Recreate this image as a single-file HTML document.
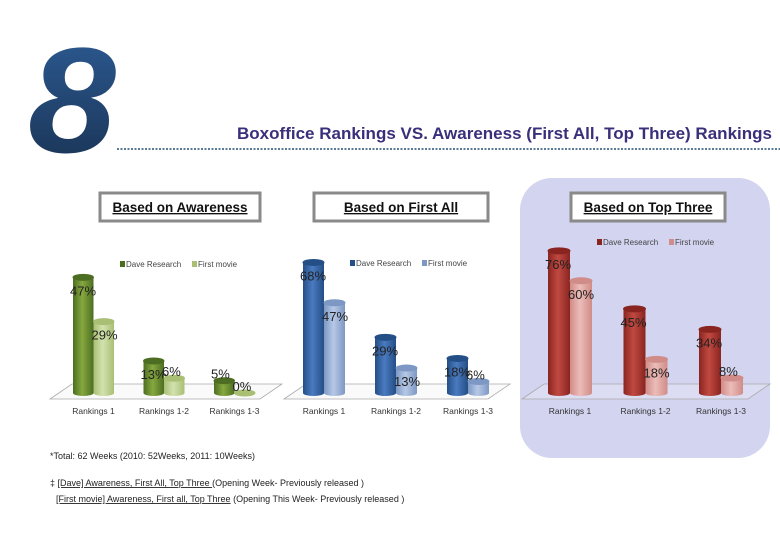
<!DOCTYPE html>
<html><head><meta charset="utf-8"><style>
body{margin:0;background:#fff;}
svg{display:block;font-family:"Liberation Sans",sans-serif;}
</style></head><body>
<svg width="780" height="540" viewBox="0 0 780 540" id="s">
<defs>
<linearGradient id="g8" x1="0" y1="0" x2="0" y2="1"><stop offset="0" stop-color="#2e5e98"/><stop offset="1" stop-color="#18304f"/></linearGradient>
</defs>
<text x="28" y="152" font-size="150" font-weight="bold" font-style="italic" fill="url(#g8)" font-family="Liberation Sans,sans-serif" textLength="88" lengthAdjust="spacingAndGlyphs">8</text>
<text x="237" y="139" font-size="16.5" font-weight="bold" fill="#3a2f7a" textLength="535" lengthAdjust="spacingAndGlyphs">Boxoffice Rankings VS. Awareness (First All, Top Three) Rankings</text>
<line x1="117" y1="149" x2="780" y2="149" stroke="#5a7a96" stroke-width="2" stroke-dasharray="2,1.5"/>
<rect x="520" y="178" width="250" height="280" rx="32" fill="#d3d4f0"/>
<g id="charts"></g>
<text x="50" y="459" font-size="9" fill="#222">*Total: 62 Weeks (2010: 52Weeks, 2011: 10Weeks)</text>
<text x="50" y="486" font-size="9" fill="#222">‡ <tspan text-decoration="underline">[Dave] Awareness, First  All, Top Three </tspan> (Opening Week- Previously released )</text>
<text x="56" y="502" font-size="9" fill="#222"><tspan text-decoration="underline">[First movie] Awareness, First all, Top Three</tspan> (Opening This Week- Previously released )</text>
</svg>
<script>
const categories = ["Rankings 1","Rankings 1-2","Rankings 1-3"];
const series = ["Dave Research","First movie"];
const awarenessDave = [47,13,5];
const awarenessFirst = [29,6,0];
const firstAllDave = [68,29,18];
const firstAllFirst = [47,13,6];
const topThreeDave = [76,45,34];
const topThreeFirst = [60,18,8];

const NS="http://www.w3.org/2000/svg";
const root=document.getElementById('charts');
function mk(tag,attrs,parent){const e=document.createElementNS(NS,tag);for(const k in attrs)e.setAttribute(k,attrs[k]);(parent||root).appendChild(e);return e;}

const charts=[
 {title:"Based on Awareness",name:"awareness",box:[100,193,160],x0:73,step:70.5,bw:20.5,ppu:2.46,dave:awarenessDave,first:awarenessFirst,c1:["#4d6e22","#86a83e"],c2:["#a9bf74","#d3e2ae"],leg:[120,267],floor:[50,282]},
 {title:"Based on First  All",name:"first-all",box:[314,193,174],x0:303,step:72,bw:21,ppu:1.92,dave:firstAllDave,first:firstAllFirst,c1:["#244f86","#4a7ac0"],c2:["#7d98c4","#b6c8e6"],leg:[350,266],floor:[284,510]},
 {title:"Based on Top Three",name:"top-three",box:[571,193,154],x0:548,step:75.5,bw:22,ppu:1.87,dave:topThreeDave,first:topThreeFirst,c1:["#8a2420","#c04a42"],c2:["#d08c88","#ecbcb8"],leg:[597,245],floor:[522,770]}
];
const base=393;
charts.forEach((c,ci)=>{
  const g=mk('g',{});
  
  
  const b=mk('rect',{x:c.box[0],y:c.box[1],width:c.box[2],height:28,fill:"#fff",stroke:"#8a8a8a","stroke-width":3},g);
  
  
  const t=mk('text',{x:c.box[0]+c.box[2]/2,y:c.box[1]+19,"text-anchor":"middle","font-size":13.5,"font-weight":"bold","text-decoration":"underline",fill:"#111"},g);
  t.textContent=c.title;
  
  
  // floor
  const f=mk('polygon',{points:`${c.floor[0]},399 ${c.floor[0]+22},384 ${c.floor[1]},384 ${c.floor[1]-22},399`,fill:ci==2?"#dcdcf2":"#fafafa",stroke:"#aaa","stroke-width":0.8},g);
  
  
  // legend
  [0,1].forEach(si=>{
    const lx=c.leg[0]+si*72;
    const r=mk('rect',{x:lx,y:c.leg[1]-6,width:5,height:6,fill:si?c.c2[0]:c.c1[0]},g);
    
    
    const lt=mk('text',{x:lx+6,y:c.leg[1],"font-size":8,fill:"#444"},g);
    lt.textContent=series[si];
    
    
  });
  categories.forEach((cat,i)=>{
    [c.dave[i],c.first[i]].forEach((v,si)=>{
      const x=c.x0+i*c.step+si*c.bw;
      const h=v*c.ppu;
      const top=base-h;
      const col=si?c.c2:c.c1;
      const gid='gr'+ci+si;
      if(!document.getElementById(gid)){
        const lg=mk('linearGradient',{id:gid,x1:0,y1:0,x2:1,y2:0},document.querySelector('defs'));
        mk('stop',{offset:0,"stop-color":col[0]},lg);mk('stop',{offset:0.45,"stop-color":col[1]},lg);mk('stop',{offset:1,"stop-color":col[0]},lg);
      }
      const bar=mk('path',{d:`M${x},${top} L${x},${base} A${c.bw/2},3 0 0 0 ${x+c.bw},${base} L${x+c.bw},${top} Z`,fill:`url(#${gid})`},g);
      
      
      const cap=mk('ellipse',{cx:x+c.bw/2,cy:top,rx:c.bw/2,ry:3,fill:col[0],stroke:col[0]},g);
      
      
      const lab=mk('text',{x:x+(si?-2:-3),y:top+(v<10?-2:18),"font-size":13,fill:"#222"},g);
      lab.textContent=v+'%';
      
      
    });
    const cl=mk('text',{x:c.x0+i*c.step+c.bw,y:414,"text-anchor":"middle","font-size":8.5,fill:"#333"},g);
    cl.textContent=cat;
    
    
  });
});
</script>
</body></html>
